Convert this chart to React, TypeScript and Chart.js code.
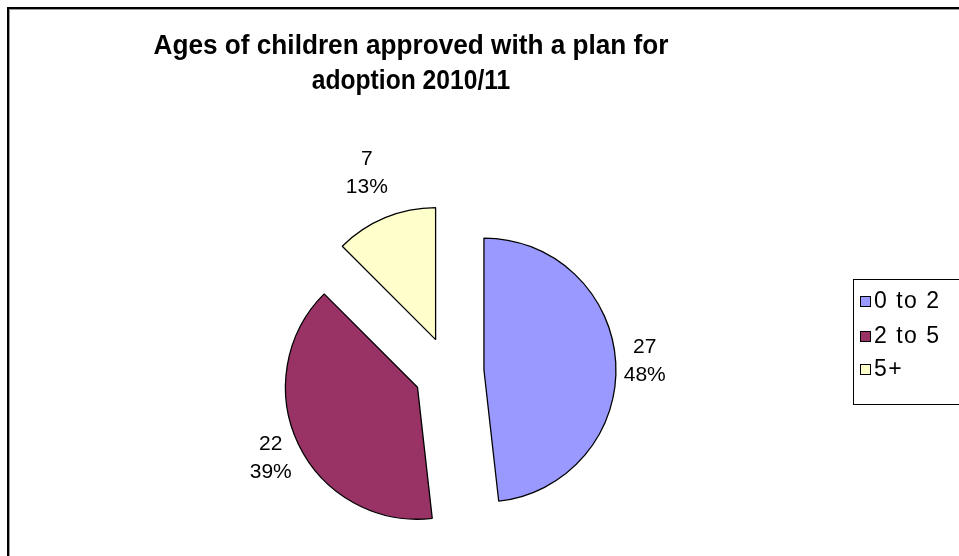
import React, { useEffect, useRef } from "react";
import { Chart, registerables } from "chart.js";

Chart.register(...registerables);

const titleLines = ["Ages of children approved with a plan for", "adoption 2010/11"];
const categories = ["0 to 2", "2 to 5", "5+"];
const counts = [27, 22, 7];
const sliceColors = ["#9999FF", "#993366", "#FFFFCC"];

const FONT = '"Liberation Sans", Arial, sans-serif';
const EXPLODE = 35;
const RADIUS = 132;

const frameAndTextPlugin = {
  id: "frameAndText",
  beforeDraw(chart: any) {
    const ctx = chart.ctx;
    ctx.save();
    ctx.fillStyle = "#ffffff";
    ctx.fillRect(0, 0, chart.width, chart.height);
    // outer chart frame (right/bottom lie outside the picture)
    ctx.fillStyle = "#000000";
    ctx.fillRect(7, 7, chart.width, 2);
    ctx.fillRect(7, 7, 2, chart.height);
    ctx.fillStyle = "#9a9a9a";
    ctx.fillRect(9, 9, chart.width, 1);
    ctx.fillRect(9, 9, 1, chart.height);
    // title
    ctx.fillStyle = "#000000";
    ctx.textAlign = "center";
    ctx.textBaseline = "middle";
    ctx.font = `bold 28px ${FONT}`;
    const titleY = [46, 81];
    const titleScale = [0.935, 0.88];
    titleLines.forEach((line, i) => {
      ctx.save();
      ctx.translate(411, titleY[i]);
      ctx.scale(titleScale[i], 1);
      ctx.fillText(line, 0, 0);
      ctx.restore();
    });
    // legend
    ctx.strokeStyle = "#000000";
    ctx.lineWidth = 1;
    ctx.strokeRect(853.5, 279.5, 300, 125);
    const rowY = [301, 336, 369];
    ctx.font = `23px ${FONT}`;
    ctx.textAlign = "left";
    (ctx as any).letterSpacing = "1.5px";
    categories.forEach((c, i) => {
      ctx.fillStyle = sliceColors[i];
      ctx.fillRect(860, rowY[i] - 5, 11, 11);
      ctx.strokeRect(860.5, rowY[i] - 4.5, 10, 10);
      ctx.fillStyle = "#000000";
      ctx.fillText(c, 874, rowY[i] + 1);
    });
    (ctx as any).letterSpacing = "0px";
    ctx.restore();
  },
  afterUpdate(chart: any) {
    const meta = chart.getDatasetMeta(0);
    meta.data.forEach((arc: any) => {
      const mid = (arc.startAngle + arc.endAngle) / 2;
      arc.x += Math.cos(mid) * EXPLODE;
      arc.y += Math.sin(mid) * EXPLODE;
    });
  },
  afterDatasetsDraw(chart: any) {
    const ctx = chart.ctx;
    const meta = chart.getDatasetMeta(0);
    const values = chart.data.datasets[0].data as number[];
    const total = values.reduce((a, b) => a + b, 0);
    ctx.save();
    ctx.fillStyle = "#000000";
    ctx.font = `21px ${FONT}`;
    ctx.textAlign = "center";
    ctx.textBaseline = "middle";
    meta.data.forEach((arc: any, i: number) => {
      const mid = (arc.startAngle + arc.endAngle) / 2;
      const dx = Math.cos(mid);
      const dy = Math.sin(mid);
      const t = Math.min(17 / Math.max(Math.abs(dx), 1e-6), 33 / Math.max(Math.abs(dy), 1e-6));
      const d = arc.outerRadius + 12 + t;
      const cx = arc.x + dx * d;
      const cy = arc.y + dy * d;
      const pct = Math.round((values[i] / total) * 100) + "%";
      ctx.fillText(String(values[i]), cx, cy - 14);
      ctx.fillText(pct, cx, cy + 14);
    });
    ctx.restore();
  },
};

export default function App() {
  const ref = useRef<HTMLCanvasElement>(null);
  useEffect(() => {
    if (!ref.current) return;
    const chart = new Chart(ref.current, {
      type: "pie",
      data: {
        labels: categories,
        datasets: [
          {
            data: counts,
            backgroundColor: sliceColors,
            borderColor: "#000000",
            borderWidth: 1.3,
            radius: RADIUS,
          } as any,
        ],
      },
      options: {
        responsive: false,
        animation: false,
        events: [],
        layout: { padding: { left: 309, right: 370, top: 232, bottom: 44 } },
        plugins: {
          legend: { display: false },
          title: { display: false },
          tooltip: { enabled: false },
        },
      },
      plugins: [frameAndTextPlugin],
    });
    return () => chart.destroy();
  }, []);
  return (
    <div style={{ position: "fixed", left: 0, top: 0, width: 959, height: 556, overflow: "hidden", background: "#fff" }}>
      <canvas ref={ref} width={959} height={556} style={{ display: "block" }} />
    </div>
  );
}
